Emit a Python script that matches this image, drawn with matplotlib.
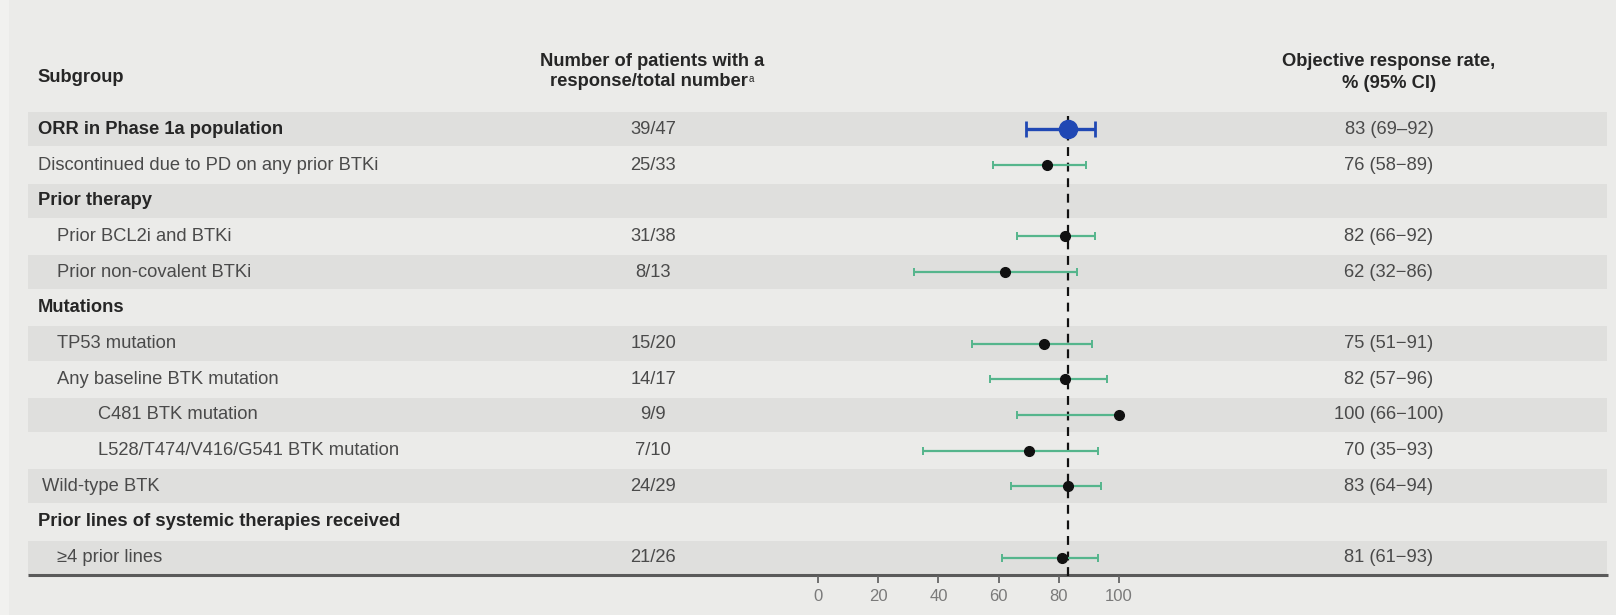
import matplotlib
matplotlib.use("Agg")
import matplotlib.pyplot as plt
from matplotlib.patches import Rectangle
from matplotlib.transforms import blended_transform_factory

# ---- data -------------------------------------------------------------
subgroups = [
    "ORR in Phase 1a population",
    "Discontinued due to PD on any prior BTKi",
    "Prior therapy",
    "Prior BCL2i and BTKi",
    "Prior non-covalent BTKi",
    "Mutations",
    "TP53 mutation",
    "Any baseline BTK mutation",
    "C481 BTK mutation",
    "L528/T474/V416/G541 BTK mutation",
    "Wild-type BTK",
    "Prior lines of systemic therapies received",
    "\u22654 prior lines",
]
# hierarchy level of each row (None marks a section heading)
levels = [0, 0, None, 1, 1, None, 1, 1, 2, 2, 0.5, None, 1]
responders = [39, 25, None, 31, 8, None, 15, 14, 9, 7, 24, None, 21]
totals = [47, 33, None, 38, 13, None, 20, 17, 9, 10, 29, None, 26]
orr = [83, 76, None, 82, 62, None, 75, 82, 100, 70, 83, None, 81]
ci_low = [69, 58, None, 66, 32, None, 51, 57, 66, 35, 64, None, 61]
ci_high = [92, 89, None, 92, 86, None, 91, 96, 100, 93, 94, None, 93]
reference_orr = 83
xticks = [0, 20, 40, 60, 80, 100]

# ---- style --------------------------------------------------------------
W, H = 1616, 615
BG = "#ebebe9"
BAND = "#dfdfdd"
TXT = "#4a4a4a"
BOLD_TXT = "#262626"
GREEN = "#55b58c"
BLUE = "#2048b4"
FONT = "Liberation Sans"
FS = 13.2
indent_px = {0: 37.5, 0.5: 41.5, 1: 57, 2: 97.5}

plt.rcParams["font.family"] = [FONT, "DejaVu Sans"]

fig = plt.figure(figsize=(W / 100, H / 100), dpi=100, facecolor=BG)

# background/table layer in pixel coordinates
bg = fig.add_axes([0, 0, 1, 1])
bg.set_xlim(0, W)
bg.set_ylim(H, 0)
bg.axis("off")
bg.set_facecolor(BG)
bg.add_patch(Rectangle((0, 0), 9, H, color="#f1f1ef", lw=0, zorder=0))

# forest-plot axes: x is the response rate, y the row index
n = len(subgroups)
top_px, bottom_px = 111.5, 575.5
ax = fig.add_axes([818 / W, 1 - bottom_px / H, (1119 - 818) / W,
                   (bottom_px - top_px) / H])
ax.set_xlim(0, 100)
ax.set_ylim(n - 0.5, -0.5)
ax.patch.set_alpha(0)
for s in ax.spines.values():
    s.set_visible(False)
ax.set_yticks([])
ax.set_xticks(xticks)
ax.set_xticklabels([str(t) for t in xticks])
ax.tick_params(axis="x", length=5, width=1.3, color="#666666",
               labelsize=12, labelcolor="#7a7a7a", pad=5)

row_tr = blended_transform_factory(bg.transData, ax.transData)

# alternating row bands
for i in range(0, n, 2):
    bg.add_patch(Rectangle((28, i - 0.48), 1579, 0.96, transform=row_tr,
                           color=BAND, lw=0, zorder=1))

# bottom rule
bg.plot([28, 1608], [574.5, 574.5], color="#5a5a5a", lw=2.2, zorder=3,
        solid_capstyle="butt")

# column headers
bg.text(37.5, 77, "Subgroup", fontsize=FS, fontweight="bold", color=BOLD_TXT,
        ha="left", va="center")
bg.text(652, 61, "Number of patients with a", fontsize=FS, fontweight="bold",
        color=BOLD_TXT, ha="center", va="center")
t2 = bg.text(649, 82, "response/total number", fontsize=FS, fontweight="bold",
             color=BOLD_TXT, ha="center", va="center")
bg.annotate("a", xy=(1.0, 1.0), xycoords=t2, xytext=(0.3, 0),
            textcoords="offset points", fontsize=7, color=BOLD_TXT,
            ha="left", va="top")
bg.text(1389, 61, "Objective response rate,", fontsize=FS, fontweight="bold",
        color=BOLD_TXT, ha="center", va="center")
bg.text(1389, 83, "% (95% CI)", fontsize=FS, fontweight="bold",
        color=BOLD_TXT, ha="center", va="center")

# rows
for i, label in enumerate(subgroups):
    lvl = levels[i]
    heading = lvl is None
    bold = heading or i == 0
    x0 = indent_px[0] if heading else indent_px[lvl]
    bg.text(x0, i, label, transform=row_tr, fontsize=FS,
            fontweight="bold" if bold else "normal",
            color=BOLD_TXT if bold else TXT, ha="left", va="center", zorder=4)
    if heading:
        continue
    bg.text(653, i, f"{responders[i]}/{totals[i]}", transform=row_tr,
            fontsize=FS, color=TXT, ha="center", va="center", zorder=4)
    dash = "\u2013" if i == 0 else "\u2212"
    bg.text(1389, i, f"{orr[i]} ({ci_low[i]}{dash}{ci_high[i]})",
            transform=row_tr, fontsize=FS, color=TXT, ha="center",
            va="center", zorder=4)

    err = [[orr[i] - ci_low[i]], [ci_high[i] - orr[i]]]
    if i == 0:
        ax.errorbar(orr[i], i, xerr=err, fmt="o", color=BLUE, ecolor=BLUE,
                    elinewidth=2.4, capsize=5.5, capthick=2.0, markersize=13,
                    zorder=5, clip_on=False)
    else:
        ax.errorbar(orr[i], i, xerr=err, fmt="o", color="#111111",
                    ecolor=GREEN, elinewidth=1.6, capsize=3.0, capthick=1.4,
                    markersize=7, zorder=5, clip_on=False)

ax.axvline(reference_orr, color="#111111", lw=1.6, ls=(0, (4, 3)), zorder=4)

fig.savefig("out.png", dpi=100, facecolor=BG)
